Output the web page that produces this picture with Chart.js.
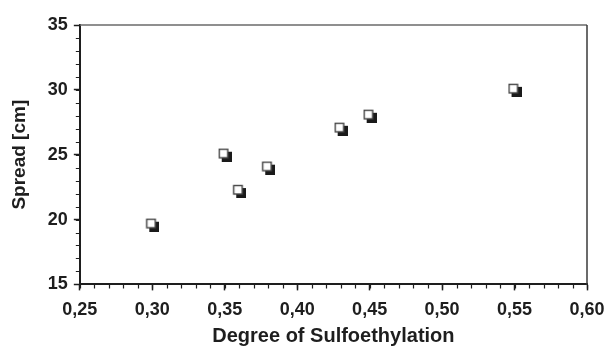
<!DOCTYPE html>
<html>
<head>
<meta charset="utf-8">
<script src="https://cdn.jsdelivr.net/npm/chart.js@4.4.0/dist/chart.umd.min.js"></script>
<style>
  html,body{margin:0;padding:0;background:#fff;}
  #wrap{width:607px;height:348px;position:relative;}
</style>
</head>
<body>
<div id="wrap"><canvas id="c"></canvas></div>
<script>
// Spread vs. grado de sulfoetilación — valores leídos a ojo del gráfico original
const degree = [0.30, 0.35, 0.36, 0.38, 0.43, 0.45, 0.55];
const spread = [19.6, 25.0, 22.2, 24.0, 27.0, 28.0, 30.0];

const X_MIN = 0.25, X_MAX = 0.60, X_MAJOR = 0.05, X_MINOR = 0.01;
const Y_MIN = 15, Y_MAX = 35, Y_MAJOR = 5, Y_MINOR = 1;

const INK = '#1e1e1e';
Chart.defaults.font.family = 'Liberation Sans, Arial, sans-serif';
Chart.defaults.font.weight = 'bold';
Chart.defaults.color = INK;

// marcador: cuadrado blanco con sombra negra desplazada
function makeMarker(){
  const m = document.createElement('canvas');
  m.width = 14; m.height = 14;
  const g = m.getContext('2d');
  g.fillStyle = '#1a1a1a';
  g.fillRect(4, 4, 10, 10);
  g.fillStyle = '#fff';
  g.fillRect(1, 1, 9, 9);
  g.strokeStyle = '#444';
  g.lineWidth = 1.4;
  g.strokeRect(1.5, 1.5, 8.5, 8.5);
  return m;
}

// marco superior/derecho y ticks menores hacia afuera
const framePlugin = {
  id:'frame',
  afterDraw(chart){
    const {ctx, chartArea:a, scales:{x, y}} = chart;
    ctx.save();
    ctx.strokeStyle = '#6a6a6a';
    ctx.lineWidth = 1.5;
    ctx.beginPath();
    ctx.moveTo(a.left, a.top); ctx.lineTo(a.right, a.top);
    ctx.stroke();
    ctx.strokeStyle = '#3a3a3a';
    ctx.beginPath();
    ctx.moveTo(a.right, a.top); ctx.lineTo(a.right, a.bottom);
    ctx.stroke();
    ctx.strokeStyle = INK;
    ctx.lineWidth = 1.2;
    ctx.beginPath();
    for(let i=0; i<=Math.round((X_MAX-X_MIN)/X_MINOR); i++){
      const v = X_MIN + i*X_MINOR;
      const px = Math.round(x.getPixelForValue(v))+0.5;
      ctx.moveTo(px, a.bottom); ctx.lineTo(px, a.bottom+4);
    }
    for(let i=0; i<=Math.round((Y_MAX-Y_MIN)/Y_MINOR); i++){
      const v = Y_MIN + i*Y_MINOR;
      const py = Math.round(y.getPixelForValue(v))+0.5;
      ctx.moveTo(a.left, py); ctx.lineTo(a.left-4, py);
    }
    ctx.stroke();
    ctx.restore();
  }
};

new Chart(document.getElementById('c').getContext('2d'), {
  type:'scatter',
  data:{datasets:[{
    label:'Spread',
    data: degree.map((d,i)=>({x:d, y:spread[i]})),
    pointStyle: makeMarker(),
    pointRadius: 7
  }]},
  options:{
    responsive:true, maintainAspectRatio:false, animation:false,
    layout:{padding:{top:25, right:14, left:8, bottom:6}},
    plugins:{legend:{display:false}, tooltip:{enabled:false}},
    scales:{
      x:{type:'linear', min:X_MIN, max:X_MAX,
        afterFit(s){ s.paddingRight = 20; },
        border:{display:true, color:INK, width:2},
        grid:{display:true, drawOnChartArea:false, drawTicks:true, tickLength:6, tickColor:INK, tickWidth:1.5},
        ticks:{stepSize:X_MAJOR, padding:9, font:{size:18, weight:'bold'},
          callback:v=>v.toFixed(2).replace('.', ',')},
        title:{display:true, text:'Degree of Sulfoethylation', padding:{top:0, bottom:0},
          font:{size:20, weight:'bold', lineHeight:0.6}}
      },
      y:{type:'linear', min:Y_MIN, max:Y_MAX,
        border:{display:true, color:INK, width:2},
        grid:{display:true, drawOnChartArea:false, drawTicks:true, tickLength:6, tickColor:INK, tickWidth:1.5},
        ticks:{stepSize:Y_MAJOR, padding:6, font:{size:18, weight:'bold'}},
        title:{display:true, text:'Spread [cm]', padding:{top:0, bottom:11},
          font:{size:19, weight:'bold'}}
      }
    }
  },
  plugins:[framePlugin]
});
</script>
</body>
</html>
